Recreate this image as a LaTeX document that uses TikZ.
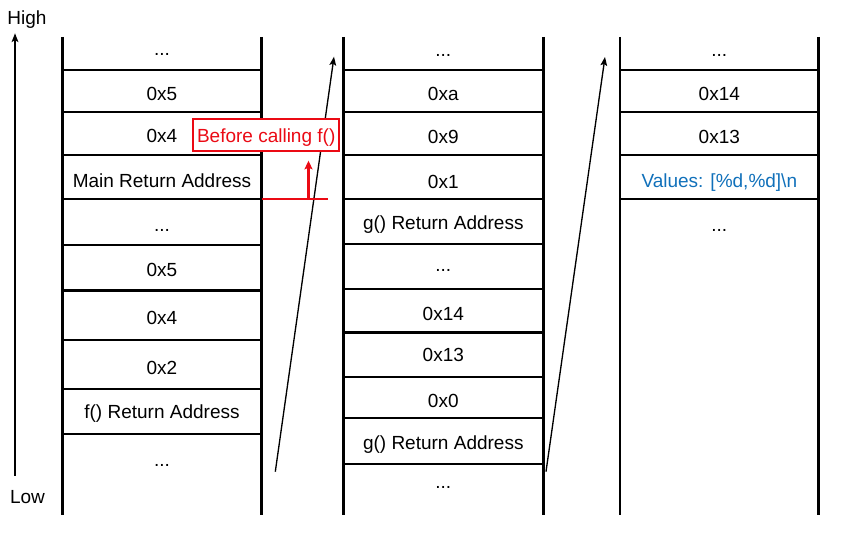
\documentclass[tikz,border=0pt]{standalone}
\usepackage{fontspec}
\setmainfont{Liberation Sans}
\usetikzlibrary{arrows.meta}
\definecolor{redc}{RGB}{235,10,20}
\definecolor{bluec}{RGB}{16,112,186}
\begin{document}
\begin{tikzpicture}[x=0.75pt,y=-0.75pt,
  lbl/.style={anchor=base, font=\fontsize{14.25}{17}\selectfont, inner sep=0pt, yshift=-1pt},
  wall/.style={line width=2.2pt},
  sepline/.style={line width=1.8pt},
  ptr/.style={-{Stealth[length=6.5pt,width=5pt,inset=1.3pt]}, line width=1pt},
  redbox/.style={draw=redc, fill=white, text=redc, line width=1.3pt, minimum width=109.3pt, minimum height=23.55pt, inner sep=0pt, text height=11.6pt, text depth=0pt, font=\fontsize{14.25}{17}\selectfont}
]
\useasboundingbox (0,0) rectangle (843,541);

% column walls
\foreach \xa in {62.3,261.7,343.3,543.3,620,818.7}
  \draw[wall] (\xa,37) -- (\xa,515);

% separators column 1
\foreach \yy in {70,112.3,155,199.3,245,290.7,340.3,389,434}
  \draw[sepline] (62.3,\yy) -- (261.7,\yy);
% separators column 2
\foreach \yy in {70,112.3,155,199.3,244.3,289.3,332.7,377.3,418.3,464.3}
  \draw[sepline] (343.3,\yy) -- (543.3,\yy);
% separators column 3
\foreach \yy in {70,112.3,155,199.3}
  \draw[sepline] (620,\yy) -- (818.7,\yy);

% column 1 texts
\node[lbl] (c1r1) at (162,54.5) {...};
\node[lbl] (c1r2) at (162,99) {0x5};
\node[lbl] (c1r3) at (162,141.5) {0x4};
\node[lbl] (c1r4) at (162,185.7) {Main Return Address};
\node[lbl] (c1r5) at (162,230) {...};
\node[lbl] (c1r6) at (162,275) {0x5};
\node[lbl] (c1r7) at (162,323.3) {0x4};
\node[lbl] (c1r8) at (162,372.7) {0x2};
\node[lbl] (c1r9) at (162,417.5) {f() Return Address};
\node[lbl] (c1r10) at (162,465) {...};

% column 2 texts
\node[lbl] (c2r1) at (443.3,55.5) {...};
\node[lbl] (c2r2) at (443.3,99.3) {0xa};
\node[lbl] (c2r3) at (443.3,141.7) {0x9};
\node[lbl] (c2r4) at (443.3,186.7) {0x1};
\node[lbl] (c2r5) at (443.3,228) {g() Return Address};
\node[lbl] (c2r6) at (443.3,270) {...};
\node[lbl] (c2r7) at (443.3,318.7) {0x14};
\node[lbl] (c2r8) at (443.3,360) {0x13};
\node[lbl] (c2r9) at (443.3,406) {0x0};
\node[lbl] (c2r10) at (443.3,448) {g() Return Address};
\node[lbl] (c2r11) at (443.3,487.5) {...};

% column 3 texts
\node[lbl] (c3r1) at (719.3,55.5) {...};
\node[lbl] (c3r2) at (719.3,99.3) {0x14};
\node[lbl] (c3r3) at (719.3,141.7) {0x13};
\node[lbl, text=bluec] (c3r4) at (719.3,186) {Values: [\%d,\%d]\textbackslash n};
\node[lbl] (c3r5) at (719.3,230) {...};

% High / Low
\node[lbl] (high) at (27,23) {High};
\node[lbl] (low) at (27.5,502.3) {Low};
\coordinate (hlA) at (15,476);
\coordinate (hlB) at (15,33.3);
\draw[ptr, line width=1.3pt] (hlA) -- (hlB);

% frame arrows
\coordinate (p1s) at (275.3,471.7);
\coordinate (p1e) at (334,56.7);
\draw[ptr] (p1s) -- (p1e);
\coordinate (p2s) at (546,471.7);
\coordinate (p2e) at (605,57);
\draw[ptr] (p2s) -- (p2e);

% red annotation
\node[redbox] (bcf) at (266.2,135) {Before calling f()};
\coordinate (rlA) at (262,199.3);
\coordinate (rlB) at (327.7,199.3);
\draw[redc, line width=1.75pt] (rlA) -- (rlB);
\coordinate (raA) at (308.5,199.3);
\coordinate (raB) at (308.5,160.7);
\draw[redc, line width=1.6pt, -{Stealth[length=6.5pt,width=6pt,inset=1.3pt]}] (raA) -- (raB);
\end{tikzpicture}
\end{document}
